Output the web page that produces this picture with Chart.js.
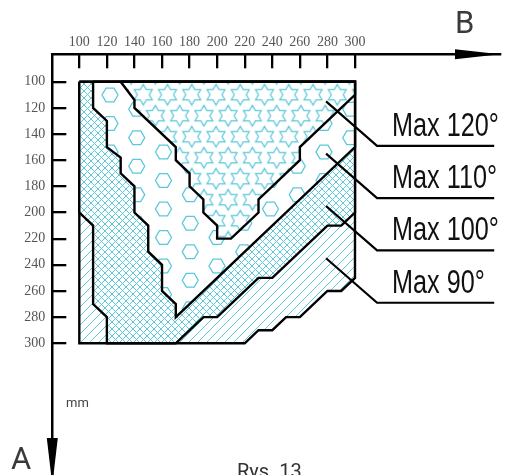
<!DOCTYPE html>
<html>
<head>
<meta charset="utf-8">
<script src="https://cdn.jsdelivr.net/npm/chart.js@4.4.1/dist/chart.umd.min.js"></script>
<style>
  html, body { margin: 0; padding: 0; background: #fff; }
  #wrap { width: 513px; height: 475px; }
</style>
</head>
<body>
<div id="wrap"><canvas id="chart"></canvas></div>
<script>
const xTicks = [100, 120, 140, 160, 180, 200, 220, 240, 260, 280, 300]
const yTicks = [100, 120, 140, 160, 180, 200, 220, 240, 260, 280, 300]
const zoneNames = ["Max 120°", "Max 110°", "Max 100°", "Max 90°"]

// zone outlines in mm (x = B, y = A)
const zone90 = [[100, 100], [300, 100], [300, 250], [290, 260], [280, 260], [260, 280], [250, 280], [240, 290], [230, 290], [220, 300], [100, 300], [100, 100]]
const zone100 = [[100, 100], [300, 100], [300, 200], [290, 210], [280, 210], [240, 250], [230, 250], [200, 280], [190, 280], [170, 300], [120, 300], [120, 280], [110, 270], [110, 210], [100, 200], [100, 100]]
const zone110 = [[110, 100], [300, 100], [300, 150], [170, 280], [170, 270], [160, 260], [160, 240], [150, 230], [150, 210], [140, 200], [140, 180], [130, 170], [130, 158], [120, 150], [120, 130], [110, 120], [110, 100]]
const zone120 = [[130, 100], [300, 100], [300, 110], [260, 150], [260, 160], [230, 190], [230, 200], [210, 220], [200, 220], [200, 210], [190, 200], [190, 190], [180, 180], [180, 170], [170, 160], [170, 150], [140, 120], [140, 114], [130, 100]]

// leader lines: start inside the zone, elbow, end of underline
const leader120 = [[279, 115], [316, 149], [401, 149]]
const leader110 = [[279, 155], [316, 189], [401, 189]]
const leader100 = [[279, 195], [316, 229], [401, 229]]
const leader90 = [[279, 235], [316, 269], [401, 269]]

const cyan = "#5cc8da"

function tile(w, h, draw) {
  const c = document.createElement("canvas")
  c.width = w
  c.height = h
  const ctx = c.getContext("2d")
  ctx.fillStyle = "#fff"
  ctx.fillRect(0, 0, w, h)
  ctx.strokeStyle = cyan
  ctx.lineWidth = 1
  draw(ctx)
  return c
}

function pattern(canvas, dx, dy) {
  const p = document.createElement("canvas").getContext("2d").createPattern(canvas, "repeat")
  if (dx || dy) p.setTransform(new DOMMatrix().translate(dx, dy))
  return p
}

function hatchTile(s, both) {
  return tile(s, s, (ctx) => {
    ctx.beginPath()
    for (let k = -1; k <= 1; k++) {
      ctx.moveTo(k * s, s)
      ctx.lineTo(k * s + s, 0)
      if (both) {
        ctx.moveTo(k * s, 0)
        ctx.lineTo(k * s + s, s)
      }
    }
    ctx.stroke()
  })
}

function hexTile() {
  const dx = 26.75, dy = 28.5, r = 8
  return tile(107, 57, (ctx) => {
    ctx.lineWidth = 1.3
    for (let c = -1; c <= 4; c++) {
      for (let row = -1; row <= 2; row++) {
        const cx = 13 + c * dx
        const cy = 14 + row * dy + (c % 2 ? dy / 2 : 0)
        ctx.beginPath()
        for (let i = 0; i < 6; i++) {
          const a = i * Math.PI / 3
          ctx.lineTo(cx + r * Math.cos(a), cy + r * Math.sin(a))
        }
        ctx.closePath()
        ctx.stroke()
      }
    }
  })
}

function starTile() {
  const dx = 24.25, dy = 21, R = 10.4, r = 6
  return tile(97, 42, (ctx) => {
    ctx.lineWidth = 1.2
    for (let c = -1; c <= 4; c++) {
      for (let row = -1; row <= 2; row++) {
        const cx = 12 + c * dx + (row % 2 ? dx / 2 : 0)
        const cy = 10.5 + row * dy
        ctx.beginPath()
        for (let i = 0; i < 12; i++) {
          const a = -Math.PI / 2 + i * Math.PI / 6
          const rr = i % 2 ? r : R
          ctx.lineTo(cx + rr * Math.cos(a), cy + rr * Math.sin(a))
        }
        ctx.closePath()
        ctx.stroke()
      }
    }
  })
}

const toPoints = (list) => list.map(([x, y]) => ({ x, y }))

const zoneStyle = {
  borderColor: "#000",
  borderWidth: 2.4,
  borderJoinStyle: "miter",
  pointRadius: 0,
  tension: 0,
  fill: "shape"
}

const leaderStyle = {
  borderColor: "#000",
  borderWidth: 2.2,
  pointRadius: 0,
  tension: 0,
  fill: false,
  order: 0
}

// axes sit on the chart area edges, no extra padding from tick labels
function fixBox(size) {
  return (scale) => {
    if (scale.isHorizontal()) scale.height = size
    else scale.width = size
    scale.paddingTop = 0
    scale.paddingBottom = 0
    scale.paddingLeft = 0
    scale.paddingRight = 0
  }
}

const annotate = {
  id: "annotate",
  afterDraw(chart) {
    const { ctx, chartArea: a } = chart
    ctx.save()
    ctx.fillStyle = "#000"
    ctx.beginPath()
    ctx.moveTo(a.right, a.top)
    ctx.lineTo(a.right - 45, a.top - 5)
    ctx.lineTo(a.right - 45, a.top + 5)
    ctx.closePath()
    ctx.fill()
    ctx.beginPath()
    ctx.moveTo(a.left, a.bottom + 10)
    ctx.lineTo(a.left - 5.5, a.bottom - 37)
    ctx.lineTo(a.left + 5.5, a.bottom - 37)
    ctx.closePath()
    ctx.fill()

    // zone labels sit on the leader underlines
    ctx.font = '34px "Liberation Sans Narrow", "Liberation Sans", Arial, sans-serif'
    const squeeze = 105 / ctx.measureText("Max 110°").width
    ctx.fillStyle = "#111"
    ctx.textBaseline = "alphabetic"
    zoneNames.forEach((name, i) => {
      const elbow = chart.getDatasetMeta(4 + i).data[1]
      ctx.save()
      ctx.translate(elbow.x + 15, elbow.y - 10)
      ctx.scale(squeeze, 1)
      ctx.fillText(name, 0, 0)
      ctx.restore()
    })

    ctx.fillStyle = "#3a3a3a"
    ctx.font = "31px Roboto, sans-serif"
    ctx.fillText("B", 455, 33)
    ctx.fillText("A", 11, 469)
    ctx.fillStyle = "#444"
    ctx.font = "13px Roboto, sans-serif"
    ctx.fillText("mm", 66, 406.5)
    ctx.fillStyle = "#333"
    ctx.font = "20px Roboto, sans-serif"
    ctx.fillText("Rys. 13", 237, 477.5)
    ctx.restore()
  }
}

const tickFont = { family: '"Liberation Serif", "Times New Roman", serif', size: 14 }

new Chart(document.getElementById("chart"), {
  type: "line",
  data: {
    datasets: [
      { ...zoneStyle, label: zoneNames[0], data: toPoints(zone120), backgroundColor: pattern(starTile(), 179.7, 84.2), order: 1 },
      { ...zoneStyle, label: zoneNames[1], data: toPoints(zone110), backgroundColor: pattern(hexTile(), 97, 81), order: 2 },
      { ...zoneStyle, label: zoneNames[2], data: toPoints(zone100), backgroundColor: pattern(hatchTile(7, true)), order: 3 },
      { ...zoneStyle, label: zoneNames[3], data: toPoints(zone90), backgroundColor: pattern(hatchTile(9, false)), order: 4 },
      { ...leaderStyle, data: toPoints(leader120) },
      { ...leaderStyle, data: toPoints(leader110) },
      { ...leaderStyle, data: toPoints(leader100) },
      { ...leaderStyle, data: toPoints(leader90) }
    ]
  },
  options: {
    responsive: true,
    maintainAspectRatio: false,
    animation: false,
    events: [],
    layout: { padding: { left: 0, top: 0, right: 13, bottom: 0 } },
    plugins: { legend: { display: false }, tooltip: { enabled: false } },
    scales: {
      x: {
        type: "linear",
        position: "top",
        min: 80.4,
        max: 405.2,
        afterBuildTicks: (scale) => { scale.ticks = xTicks.map((value) => ({ value })) },
        afterFit: fixBox(54.3),
        border: { color: "#000", width: 2.5 },
        grid: { drawOnChartArea: false, color: "#000", lineWidth: 2.3, tickLength: -14 },
        ticks: { padding: 18, color: "#555", font: tickFont, maxRotation: 0, autoSkip: false }
      },
      y: {
        type: "linear",
        position: "left",
        reverse: true,
        min: 79.05,
        max: 400.7,
        afterBuildTicks: (scale) => { scale.ticks = yTicks.map((value) => ({ value })) },
        afterFit: fixBox(52.3),
        border: { color: "#000", width: 2.5 },
        grid: { drawOnChartArea: false, color: "#000", lineWidth: 2.3, tickLength: -14 },
        ticks: { padding: 21, color: "#555", font: tickFont, autoSkip: false }
      }
    }
  },
  plugins: [annotate]
})
</script>
</body>
</html>
